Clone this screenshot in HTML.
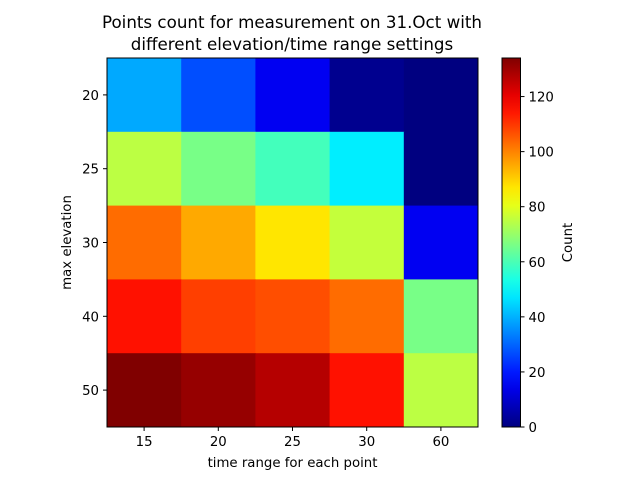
<!DOCTYPE html>
<html><head><meta charset="utf-8"><style>
body{margin:0;background:#fff;}
svg text{font-family:"DejaVu Sans","Liberation Sans",sans-serif;fill:#000;}
</style></head><body>
<svg id="chart" width="640" height="480" xmlns="http://www.w3.org/2000/svg">
<rect width="640" height="480" fill="#fff"/>
<text x="292" y="28" font-size="16.7" text-anchor="middle">Points count for measurement on 31.Oct with</text>
<text x="292" y="50" font-size="16.7" text-anchor="middle">different elevation/time range settings</text>
<g id="cells"></g><g id="axes"></g>
<defs><linearGradient id="jet" x1="0" y1="1" x2="0" y2="0" id2="g"></linearGradient></defs>
</svg>
<script>
const xCats=["15","20","25","30","60"];
const yCats=["20","25","30","40","50"];
const row20=[39,27,15,2,0];
const row25=[75,66,59,48,0];
const row30=[103,95,87,76,15];
const row40=[115,109,107,103,66];
const row50=[134,131,127,115,75];
const values=[row20,row25,row30,row40,row50];
const vmin=0,vmax=134;
const cbTicks=[0,20,40,60,80,100,120];
const NS="http://www.w3.org/2000/svg";
const L=107,R=478,T=58,B=427;
const cw=(R-L)/xCats.length,ch=(B-T)/yCats.length;
function xPos(i){return L+i*cw;}
function yPos(j){return T+j*ch;}
function cl(v){return Math.max(0,Math.min(1,v));}
function jet(v){const t=(v-vmin)/(vmax-vmin);
 const r=cl(1.5-Math.abs(4*t-3)),g=cl(1.5-Math.abs(4*t-2)),b=cl(1.5-Math.abs(4*t-1));
 return `rgb(${Math.round(r*255)},${Math.round(g*255)},${Math.round(b*255)})`;}
function mk(tag,attrs,parent){const e=document.createElementNS(NS,tag);for(const k in attrs)e.setAttribute(k,attrs[k]);parent.appendChild(e);return e;}
const svg=document.getElementById('chart');
const cells=document.getElementById('cells'),axes=document.getElementById('axes');
values.forEach((row,j)=>row.forEach((v,i)=>{
 const r=mk('rect',{x:xPos(i),y:yPos(j),width:cw+0.5,height:ch+0.5,fill:jet(v)},cells);
 
 
}));
const fr=mk('rect',{x:L,y:T,width:R-L,height:B-T,fill:'none',stroke:'#000','stroke-width':1},axes);


xCats.forEach((c,i)=>{const x=xPos(i)+cw/2;
 mk('line',{x1:x,x2:x,y1:B,y2:B+4,stroke:'#000'},axes);
 const t=mk('text',{x:x,y:B+19,'font-size':13.3,'text-anchor':'middle'},axes);t.textContent=c;
 
 });
yCats.forEach((c,j)=>{const y=yPos(j)+ch/2;
 mk('line',{x1:L-4,x2:L,y1:y,y2:y,stroke:'#000'},axes);
 const t=mk('text',{x:L-8,y:y+5,'font-size':13.3,'text-anchor':'end'},axes);t.textContent=c;
 
 });
let t=mk('text',{x:(L+R)/2,y:467,'font-size':13.3,'text-anchor':'middle'},axes);t.textContent='time range for each point';


t=mk('text',{x:0,y:0,'font-size':13.3,'text-anchor':'middle',transform:`translate(71,${(T+B)/2}) rotate(-90)`},axes);t.textContent='max elevation';


// colorbar
const cx=502,cwid=18.5;
const grad=document.getElementById('jet');
for(let k=0;k<=20;k++){const v=vmin+(vmax-vmin)*k/20;mk('stop',{offset:k/20,'stop-color':jet(v)},grad);}
const cb=mk('rect',{x:cx,y:T,width:cwid,height:B-T,fill:'url(#jet)',stroke:'#000','stroke-width':1},axes);


function cy(v){return B-(v-vmin)/(vmax-vmin)*(B-T);}
cbTicks.forEach(v=>{const y=cy(v);
 mk('line',{x1:cx+cwid,x2:cx+cwid+4,y1:y,y2:y,stroke:'#000'},axes);
 const tt=mk('text',{x:cx+cwid+8,y:y+5,'font-size':13.3},axes);tt.textContent=v;
 
 });
t=mk('text',{x:0,y:0,'font-size':13.3,'text-anchor':'middle',transform:`translate(572,${(T+B)/2}) rotate(-90)`},axes);t.textContent='Count';


</script>
</body></html>
